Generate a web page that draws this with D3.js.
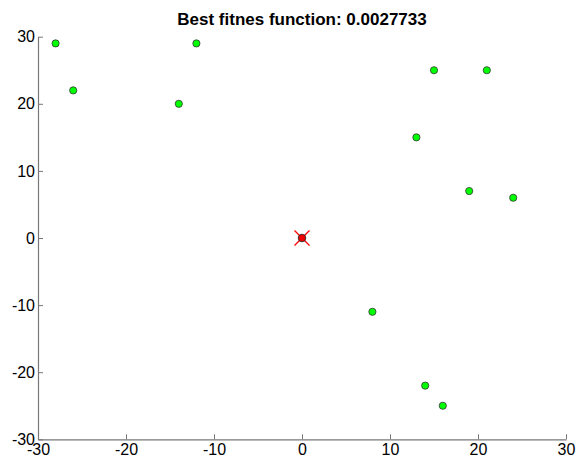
<!DOCTYPE html>
<html>
<head>
<meta charset="utf-8">
<script src="https://cdn.jsdelivr.net/npm/d3@7"></script>
<style>
  body { margin: 0; background: #fff; }
  svg { display: block; font-family: "Liberation Sans", Arial, sans-serif; }
</style>
</head>
<body>
<svg width="586" height="461"></svg>
<script>
// data
const title = 'Best fitnes function: 0.0027733';
const xTicks = [-30, -20, -10, 0, 10, 20, 30];
const yTicks = [-30, -20, -10, 0, 10, 20, 30];
const cityX = [-28, -26, -14, -12, 15, 21, 13, 19, 24, 8, 14, 16];
const cityY = [29, 22, 20, 29, 25, 25, 15, 7, 6, -11, -22, -25];
const bestX = [0];
const bestY = [0];

const svg = d3.select('svg');
const plotLeft = 38, plotRight = 566, plotTop = 36.7, plotBottom = 439.3;

const x = d3.scaleLinear().domain([-30, 30]).range([plotLeft, plotRight]);
const y = d3.scaleLinear().domain([-30, 30]).range([plotBottom, plotTop]);

// axes (MATLAB style, ticks pointing inward, plain hyphen minus)
const fmt = d => String(d);
const xAxis = d3.axisBottom(x).tickValues(xTicks).tickFormat(fmt)
  .tickSize(-5).tickPadding(4).tickSizeOuter(0);
const yAxis = d3.axisLeft(y).tickValues(yTicks).tickFormat(fmt)
  .tickSize(-5).tickPadding(3).tickSizeOuter(0);

const gx = svg.append('g').attr('transform', `translate(0,${plotBottom})`).call(xAxis);
const gy = svg.append('g').attr('transform', `translate(${plotLeft},0)`).call(yAxis);

[gx, gy].forEach(g => {
  g.select('.domain').attr('stroke', '#777').attr('stroke-width', 1.2);
  g.selectAll('.tick line').attr('stroke', '#777');
  g.selectAll('.tick text').attr('fill', '#000').attr('font-size', 16)
    .attr('font-family', '"Liberation Sans", Arial, sans-serif');
});

// title
svg.append('text')
  .attr('x', (plotLeft + plotRight) / 2)
  .attr('y', 25)
  .attr('text-anchor', 'middle')
  .attr('font-weight', 'bold')
  .attr('font-size', 17)
  .text(title);

// cities
const cities = cityX.map((v, i) => ({ x: v, y: cityY[i] }));
svg.selectAll('circle.city')
  .data(cities)
  .enter().append('circle')
  .attr('class', 'city')
  .attr('cx', d => x(d.x))
  .attr('cy', d => y(d.y))
  .attr('r', 3.6)
  .attr('fill', '#00ff00')
  .attr('stroke', '#333')
  .attr('stroke-width', 0.8);

// best point with cross
const best = bestX.map((v, i) => ({ x: v, y: bestY[i] }));
const bg = svg.selectAll('g.best').data(best).enter().append('g')
  .attr('class', 'best')
  .attr('transform', d => `translate(${x(d.x)},${y(d.y)})`);
bg.append('path')
  .attr('d', 'M-7.5,-7.5L7.5,7.5M-7.5,7.5L7.5,-7.5')
  .attr('stroke', '#ff0000')
  .attr('stroke-width', 1.3);
bg.append('circle')
  .attr('r', 3.8)
  .attr('fill', '#ee0000')
  .attr('stroke', '#222')
  .attr('stroke-width', 0.8);
</script>
</body>
</html>
